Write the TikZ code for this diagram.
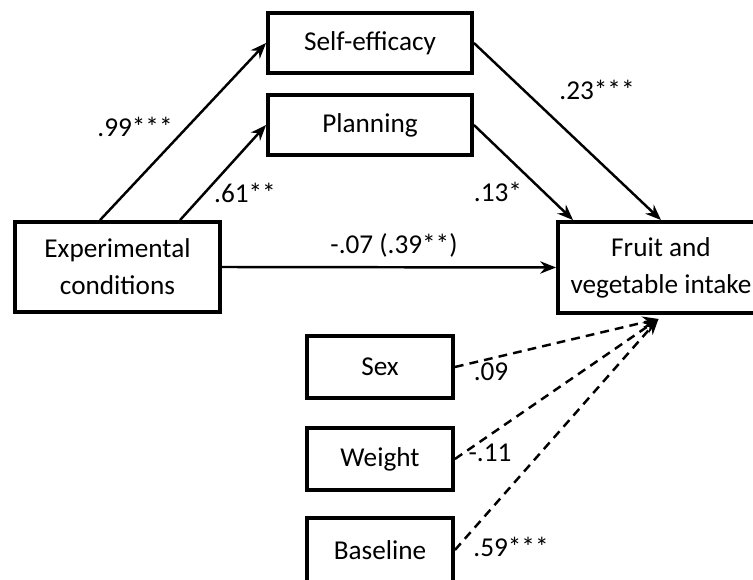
\documentclass[tikz,border=0pt]{standalone}
\usepackage{fontspec}
\setmainfont{Carlito}
\usetikzlibrary{arrows.meta,calc}

\begin{document}
\begin{tikzpicture}[font=\fontsize{15.5}{21}\selectfont,
  box/.style={draw,line width=2.2pt,align=center,inner sep=0pt},
  effect/.style={line width=1.4pt,-{Stealth[length=9pt,width=7pt]}},
  covar/.style={effect,dash pattern=on 5pt off 3.5pt}]
  \useasboundingbox (0,0) rectangle (15.06,11.6);
  % 变量框
  \node[box,minimum width=4.08cm,minimum height=1.2cm] (selfeff) at (7.40,10.74) {Self-efficacy};
  \node[box,minimum width=4.08cm,minimum height=1.2cm] (plan) at (7.40,9.10) {Planning};
  \node[box,minimum width=4.10cm,minimum height=1.8cm] (exp) at (2.35,6.26) {Experimental\\conditions};
  \node[box,minimum width=4.12cm,minimum height=1.82cm] (fruit) at (13.22,6.25) {Fruit and\\vegetable intake};
  \node[box,minimum width=2.92cm,minimum height=1.24cm] (sex) at (7.60,4.26) {Sex};
  \node[box,minimum width=2.92cm,minimum height=1.24cm] (weight) at (7.60,2.42) {Weight};
  \node[box,minimum width=2.92cm,minimum height=1.28cm] (base) at (7.60,0.60) {Baseline};
  \coordinate (conv) at ($(fruit.south)+(-0.05,-0.08)$); %虚线汇合点
  % 路径
  \draw[effect] ($(exp.north west)+(1.74,0)$) -- (selfeff.west);
  \draw[effect] ($(exp.north west)+(3.34,0)$) -- (plan.west);
  \draw[effect] (selfeff.east) -- (fruit.north);
  \draw[effect] (plan.east) -- ($(fruit.north west)+(0.34,0)$);
  \draw[effect] (exp.east) -- (fruit.west);
  \draw[covar] (sex.east) -- (conv);
  \draw[covar] (weight.east) -- (conv);
  \draw[covar] (base.east) -- (conv);
  % 系数
  \node (a1) at (2.70,9.06) {.99***};
  \node (a2) at (4.90,7.74) {.61**};
  \node (c) at (7.88,6.70) {-.07 (.39**)};
  \node (b1) at (11.94,9.80) {.23***};
  \node (b2) at (9.96,7.76) {.13*};
  \node (k1) at (9.82,4.16) {.09};
  \node (k2) at (9.80,2.54) {-.11};
  \node (k3) at (10.22,0.66) {.59***};
\end{tikzpicture}
\end{document}
